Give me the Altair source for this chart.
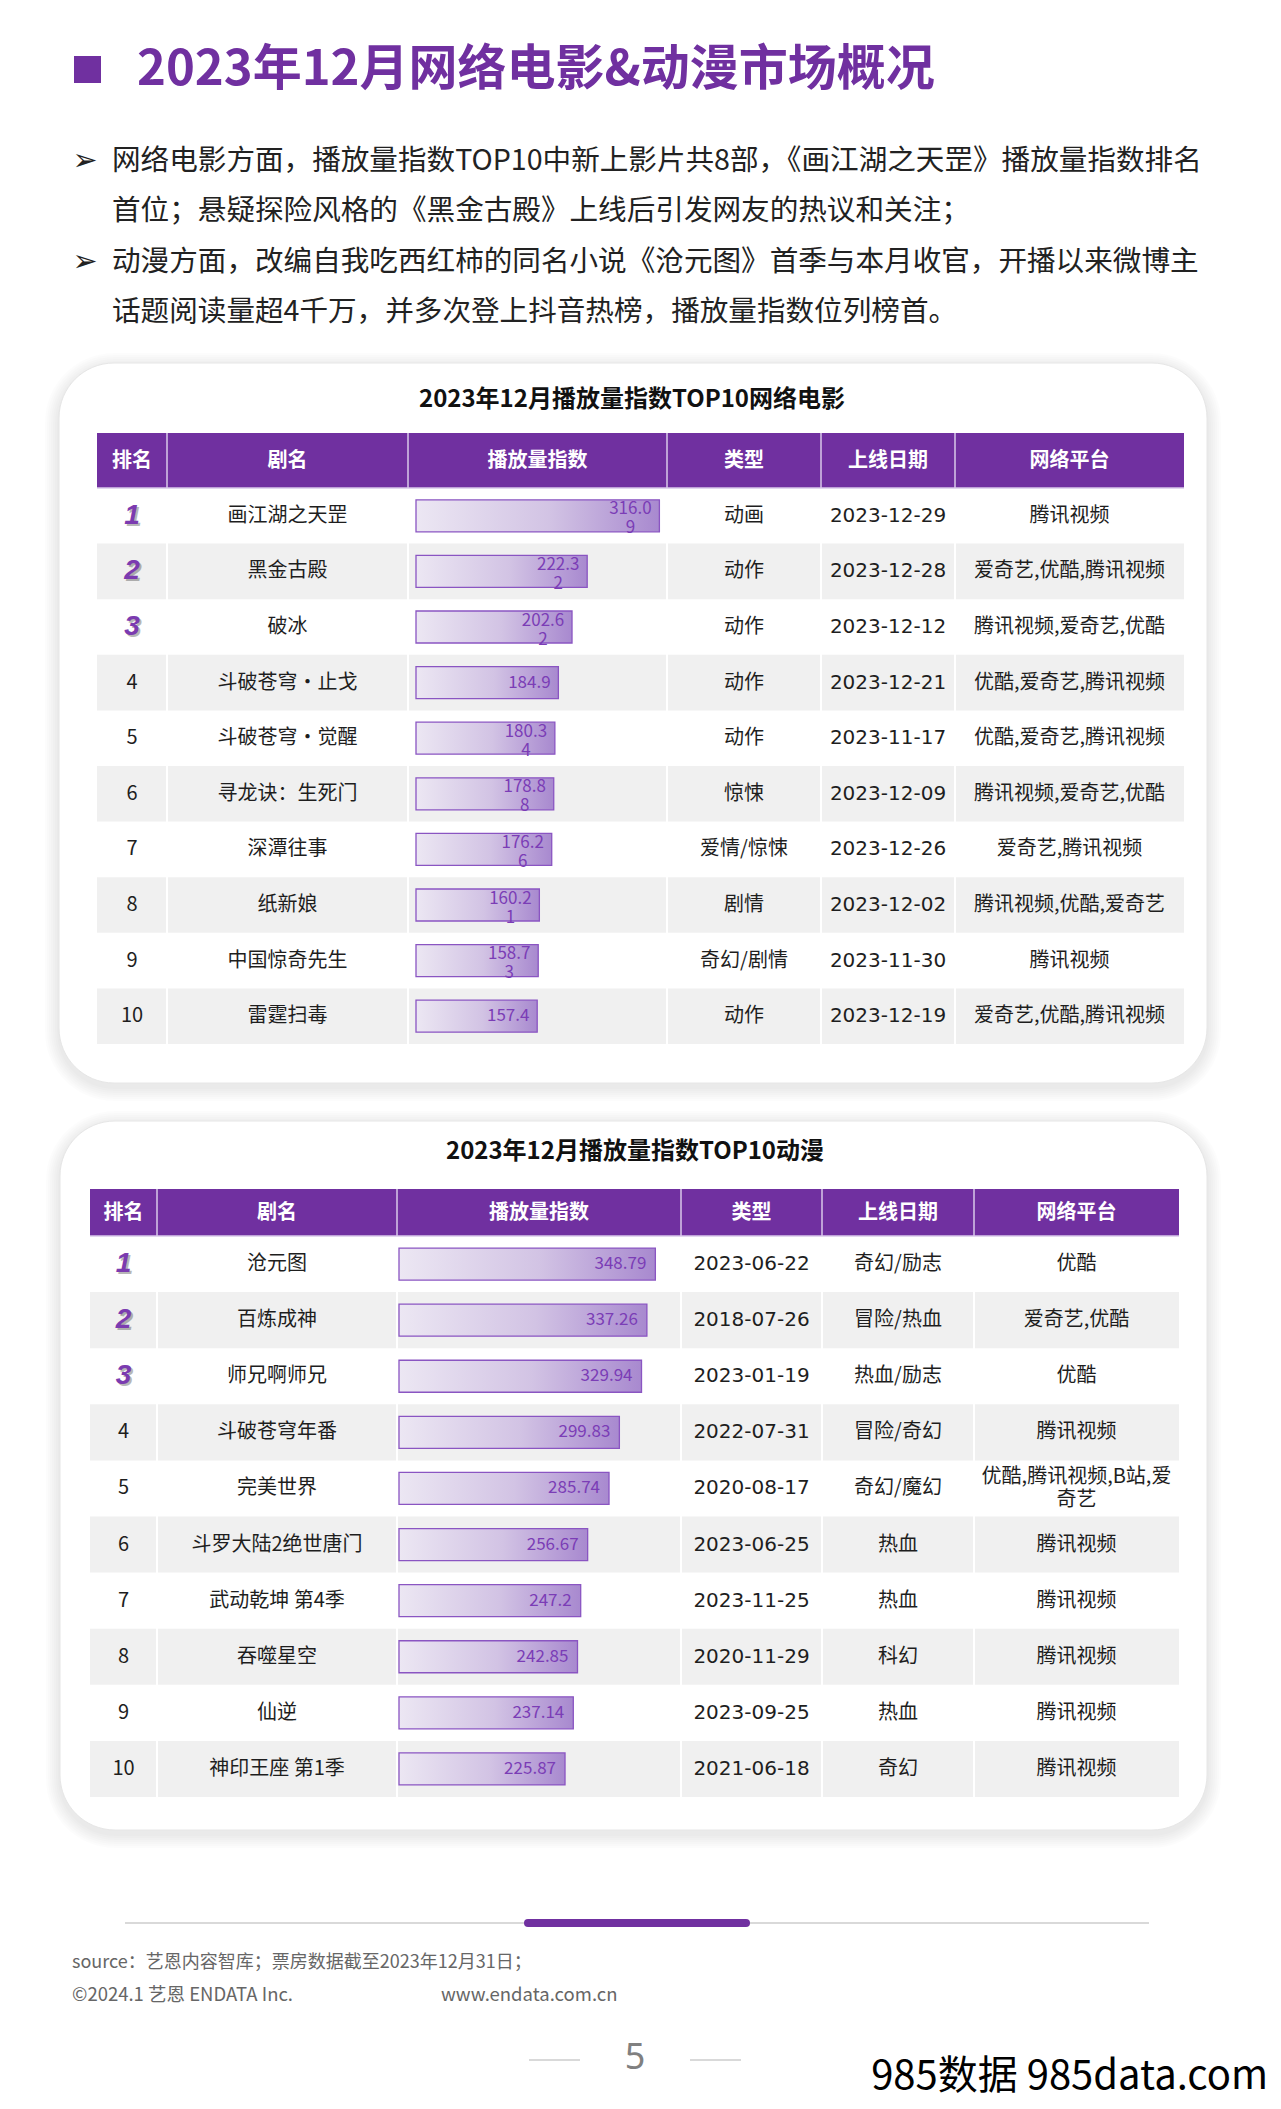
import altair as alt
import pandas as pd

FONT = "Noto Sans CJK SC"
PURPLE = "#7030A0"
TEXT = "#1E1E1E"

# ---------------- data ----------------
TITLE = "2023年12月网络电影&动漫市场概况"
BULLET_LINES = [
    "网络电影方面，播放量指数TOP10中新上影片共8部，《画江湖之天罡》播放量指数排名",
    "首位；悬疑探险风格的《黑金古殿》上线后引发网友的热议和关注；",
    "动漫方面，改编自我吃西红柿的同名小说《沧元图》首季与本月收官，开播以来微博主",
    "话题阅读量超4千万，并多次登上抖音热榜，播放量指数位列榜首。",
]
BULLET_MARK = "➢"

HEADERS = ["排名", "剧名", "播放量指数", "类型", "上线日期", "网络平台"]

MOVIE_TITLE = "2023年12月播放量指数TOP10网络电影"
MOVIE_RANK = [1, 2, 3, 4, 5, 6, 7, 8, 9, 10]
MOVIE_NAME = ["画江湖之天罡", "黑金古殿", "破冰", "斗破苍穹・止戈", "斗破苍穹・觉醒",
              "寻龙诀：生死门", "深潭往事", "纸新娘", "中国惊奇先生", "雷霆扫毒"]
MOVIE_VALUE = [316.09, 222.32, 202.62, 184.9, 180.34, 178.88, 176.26, 160.21, 158.73, 157.4]
MOVIE_GENRE = ["动画", "动作", "动作", "动作", "动作", "惊悚", "爱情/惊悚", "剧情", "奇幻/剧情", "动作"]
MOVIE_DATE = ["2023-12-29", "2023-12-28", "2023-12-12", "2023-12-21", "2023-11-17",
              "2023-12-09", "2023-12-26", "2023-12-02", "2023-11-30", "2023-12-19"]
MOVIE_PLATFORM = ["腾讯视频", "爱奇艺,优酷,腾讯视频", "腾讯视频,爱奇艺,优酷", "优酷,爱奇艺,腾讯视频",
                  "优酷,爱奇艺,腾讯视频", "腾讯视频,爱奇艺,优酷", "爱奇艺,腾讯视频",
                  "腾讯视频,优酷,爱奇艺", "腾讯视频", "爱奇艺,优酷,腾讯视频"]

ANIME_TITLE = "2023年12月播放量指数TOP10动漫"
ANIME_RANK = [1, 2, 3, 4, 5, 6, 7, 8, 9, 10]
ANIME_NAME = ["沧元图", "百炼成神", "师兄啊师兄", "斗破苍穹年番", "完美世界",
              "斗罗大陆2绝世唐门", "武动乾坤 第4季", "吞噬星空", "仙逆", "神印王座 第1季"]
ANIME_VALUE = [348.79, 337.26, 329.94, 299.83, 285.74, 256.67, 247.2, 242.85, 237.14, 225.87]
ANIME_DATE = ["2023-06-22", "2018-07-26", "2023-01-19", "2022-07-31", "2020-08-17",
              "2023-06-25", "2023-11-25", "2020-11-29", "2023-09-25", "2021-06-18"]
ANIME_GENRE = ["奇幻/励志", "冒险/热血", "热血/励志", "冒险/奇幻", "奇幻/魔幻",
               "热血", "热血", "科幻", "热血", "奇幻"]
ANIME_PLATFORM = ["优酷", "爱奇艺,优酷", "优酷", "腾讯视频", "优酷,腾讯视频,B站,爱奇艺",
                  "腾讯视频", "腾讯视频", "腾讯视频", "腾讯视频", "腾讯视频"]

SOURCE_NOTE = "source：艺恩内容智库；票房数据截至2023年12月31日；"
COPYRIGHT = "©2024.1 艺恩 ENDATA Inc."
WEBSITE = "www.endata.com.cn"
PAGE_NO = "5"
WATERMARK = "985数据 985data.com"

# ---------------- layout helpers ----------------
M = 8  # page margin


def px(v):
    return v - M


ONE = alt.Data(values=[{"k": 0}])
WRAPPED = "indexof(datum.{f}, '\\n') >= 0"
SINGLE = "indexof(datum.{f}, '\\n') < 0"


def wrap(s, n):
    return "\n".join(s[i:i + n] for i in range(0, len(s), n))


def stext(text, x, y, size, color=TEXT, weight="normal", align="left", font=FONT, **kw):
    return alt.Chart(ONE).mark_text(
        text=text, font=font, fontSize=size, color=color, fontWeight=weight,
        align=align, baseline="middle", **kw
    ).encode(x=alt.value(px(x)), y=alt.value(px(y)))


def box(x1, x2, y1, y2, **kw):
    return alt.Chart(ONE).mark_rect(**kw).encode(
        x=alt.value(px(x1)), x2=alt.value(px(x2)), y=alt.value(px(y1)), y2=alt.value(px(y2)))


def hrule(x1, x2, y, color, width, cap="butt"):
    return alt.Chart(ONE).mark_rule(color=color, strokeWidth=width, strokeCap=cap).encode(
        x=alt.value(px(x1)), x2=alt.value(px(x2)), y=alt.value(px(y)))


def card(x1, x2, y1, y2):
    layers = []
    for e in [2, 4, 6, 8, 10, 12, 14]:
        layers.append(box(x1 - e, x2 + e, y1 - e + 4, y2 + e + 4,
                          color="#000000", opacity=0.011, cornerRadius=55 + e))
    layers.append(box(x1, x2, y1, y2, color="white", cornerRadius=55,
                      stroke="#E6E6E6", strokeWidth=1))
    return layers


BAR_GRADIENT = alt.Gradient(
    gradient="linear",
    stops=[alt.GradientStop(color="#ECE7F3", offset=0),
           alt.GradientStop(color="#D2C3E4", offset=0.55),
           alt.GradientStop(color="#A889CF", offset=1)],
    x1=0, x2=1, y1=0, y2=0,
)


def multiline_text(base, field, x, Y, line_h, wrap_dy, **kw):
    """single-line and wrapped cells, wrapped blocks centred on the row."""
    out = []
    for cond, dy in ((SINGLE, 0), (WRAPPED, wrap_dy)):
        out.append(base.transform_filter(cond.format(f=field)).mark_text(
            baseline="middle", lineBreak="\n", lineHeight=line_h, dy=dy, **kw
        ).encode(x=x, y=Y, text=f"{field}:N"))
    return out


def table(df, spec):
    edges = spec["edges"]
    top, bottom = spec["body_top"], spec["body_bottom"]
    htop = spec["header_top"]
    centers = [(edges[i] + edges[i + 1]) / 2 for i in range(len(edges) - 1)]
    layers = []
    layers += card(*spec["card"])
    layers.append(stext(spec["title"], spec["title_xy"][0], spec["title_xy"][1], 24,
                        weight="bold", align="center", color="#111111"))
    # header
    layers.append(box(edges[0], edges[-1], htop, top, color=PURPLE))
    hdr = pd.DataFrame({"label": HEADERS, "cx": [px(c) for c in centers]})
    layers.append(alt.Chart(hdr).mark_text(
        font=FONT, fontSize=20, fontWeight="bold", color="white", baseline="middle"
    ).encode(x=alt.X("cx:Q", scale=None, axis=None), y=alt.value(px((htop + top) / 2)),
             text="label:N"))

    Y = alt.Y("rank:O", scale=alt.Scale(domain=list(df["rank"]), range=[px(top), px(bottom)],
                                        paddingInner=0, paddingOuter=0), axis=None)
    base = alt.Chart(df)
    # stripes
    layers.append(base.transform_filter("datum.rank % 2 == 0").mark_rect(color="#F0F0F0").encode(
        x=alt.value(px(edges[0])), x2=alt.value(px(edges[-1])), y=Y))
    # column separators
    seps = pd.DataFrame({"x": [px(e) for e in edges[1:-1]]})
    layers.append(alt.Chart(seps).mark_rule(color="#D9C9EA", strokeWidth=1.5).encode(
        x=alt.X("x:Q", scale=None, axis=None), y=alt.value(px(htop)), y2=alt.value(px(top))))
    layers.append(alt.Chart(seps).mark_rule(color="white", strokeWidth=2).encode(
        x=alt.X("x:Q", scale=None, axis=None), y=alt.value(px(top)), y2=alt.value(px(bottom))))
    layers.append(hrule(edges[0], edges[-1], top, "#D9C9EA", 1.5))

    # rank column
    layers.append(base.transform_filter("datum.rank <= 3").mark_text(
        font="Liberation Sans", fontSize=28, fontWeight="bold", fontStyle="italic",
        color="#000000", opacity=0.28, dx=2, dy=2, baseline="middle"
    ).encode(x=alt.value(px(centers[0])), y=Y, text="rank:N"))
    layers.append(base.transform_filter("datum.rank <= 3").mark_text(
        font="Liberation Sans", fontSize=28, fontWeight="bold", fontStyle="italic",
        color="#7B3BB0", baseline="middle"
    ).encode(x=alt.value(px(centers[0])), y=Y, text="rank:N"))
    layers.append(base.transform_filter("datum.rank > 3").mark_text(
        font=FONT, fontSize=20, color=TEXT, baseline="middle"
    ).encode(x=alt.value(px(centers[0])), y=Y, text="rank:N"))

    # text columns
    for field, col in spec["text_cols"]:
        font = "DejaVu Sans" if field == "date" else FONT
        layers += multiline_text(base, field, alt.value(px(centers[col])), Y, 23, -11.5,
                                 font=font, fontSize=20, color=TEXT)

    # bars
    x0, k = spec["bar_x0"], spec["bar_k"]
    X = alt.X("value:Q", scale=alt.Scale(domain=[0, 400], range=[px(x0), px(x0 + 400 * k)]),
              axis=None)
    layers.append(base.mark_bar(size=32, color=BAR_GRADIENT, stroke="#8A55C2",
                                strokeWidth=1.3).encode(x=X, y=Y))
    layers += multiline_text(base, "label", X, Y, 19, -6.5, font=FONT, fontSize=17,
                             color="#7B3DB6", align=spec["label_align"], dx=spec["label_dx"])
    return layers


movie_df = pd.DataFrame({
    "rank": MOVIE_RANK, "name": MOVIE_NAME, "value": MOVIE_VALUE, "genre": MOVIE_GENRE,
    "date": MOVIE_DATE, "platform": [wrap(p, 12) for p in MOVIE_PLATFORM],
    "label": [wrap(str(v), 5) for v in MOVIE_VALUE],
})
anime_df = pd.DataFrame({
    "rank": ANIME_RANK, "name": ANIME_NAME, "value": ANIME_VALUE, "genre": ANIME_GENRE,
    "date": ANIME_DATE, "platform": [wrap(p, 12) for p in ANIME_PLATFORM],
    "label": [str(v) for v in ANIME_VALUE],
})

movie_spec = dict(
    card=(59, 1207, 363, 1083), title=MOVIE_TITLE, title_xy=(632, 400),
    edges=[97, 167, 408, 667, 821, 955, 1184], header_top=433, body_top=488, body_bottom=1044,
    text_cols=[("name", 1), ("genre", 3), ("date", 4), ("platform", 5)],
    bar_x0=416, bar_k=0.77, label_align="center", label_dx=-29,
)
anime_spec = dict(
    card=(60, 1207, 1121, 1830), title=ANIME_TITLE, title_xy=(635, 1152),
    edges=[90, 157, 397, 681, 822, 974, 1179], header_top=1189, body_top=1236, body_bottom=1797,
    text_cols=[("name", 1), ("date", 3), ("genre", 4), ("platform", 5)],
    bar_x0=399, bar_k=0.735, label_align="right", label_dx=-9,
)

layers = []
# page title
layers.append(box(74, 101, 56, 83, color=PURPLE))
layers.append(stext(TITLE, 137, 70, 49, color=PURPLE, weight="bold"))
# bullets
bullet_y = [161, 211, 262, 312]
for i, line in enumerate(BULLET_LINES):
    layers.append(stext(line, 112, bullet_y[i], 28.6, color="#222222"))
for i in (0, 2):
    layers.append(stext(BULLET_MARK, 85, bullet_y[i], 30, color="#222222", align="center",
                        font="DejaVu Sans"))

layers += table(movie_df, movie_spec)
layers += table(anime_df, anime_spec)

# footer
layers.append(hrule(125, 1149, 1923, "#D9D9D9", 2))
layers.append(hrule(528, 746, 1923, "#7030A0", 8, cap="round"))
layers.append(stext(SOURCE_NOTE, 72, 1963, 18, color="#666666"))
layers.append(stext(COPYRIGHT, 72, 1995, 18.5, color="#666666"))
layers.append(stext(WEBSITE, 441, 1995, 18.5, color="#666666"))
layers.append(hrule(529, 580, 2060, "#D9D9D9", 2))
layers.append(hrule(690, 741, 2060, "#D9D9D9", 2))
layers.append(stext(PAGE_NO, 635, 2058, 36, color="#808080", align="center", font="Noto Sans"))
layers.append(stext(WATERMARK, 1268, 2077, 40, color="#000000", align="right",
                    font="Liberation Sans Narrow, Noto Sans CJK SC"))

res = {ch: "independent" for ch in ["x", "y"]}
chart = alt.layer(*layers).resolve_scale(**res).properties(
    width=1265, height=2093, padding=0, autosize="none", background="white"
).configure_view(stroke=None)

chart.save("out.html", embed_options={"renderer": "svg", "actions": False})
